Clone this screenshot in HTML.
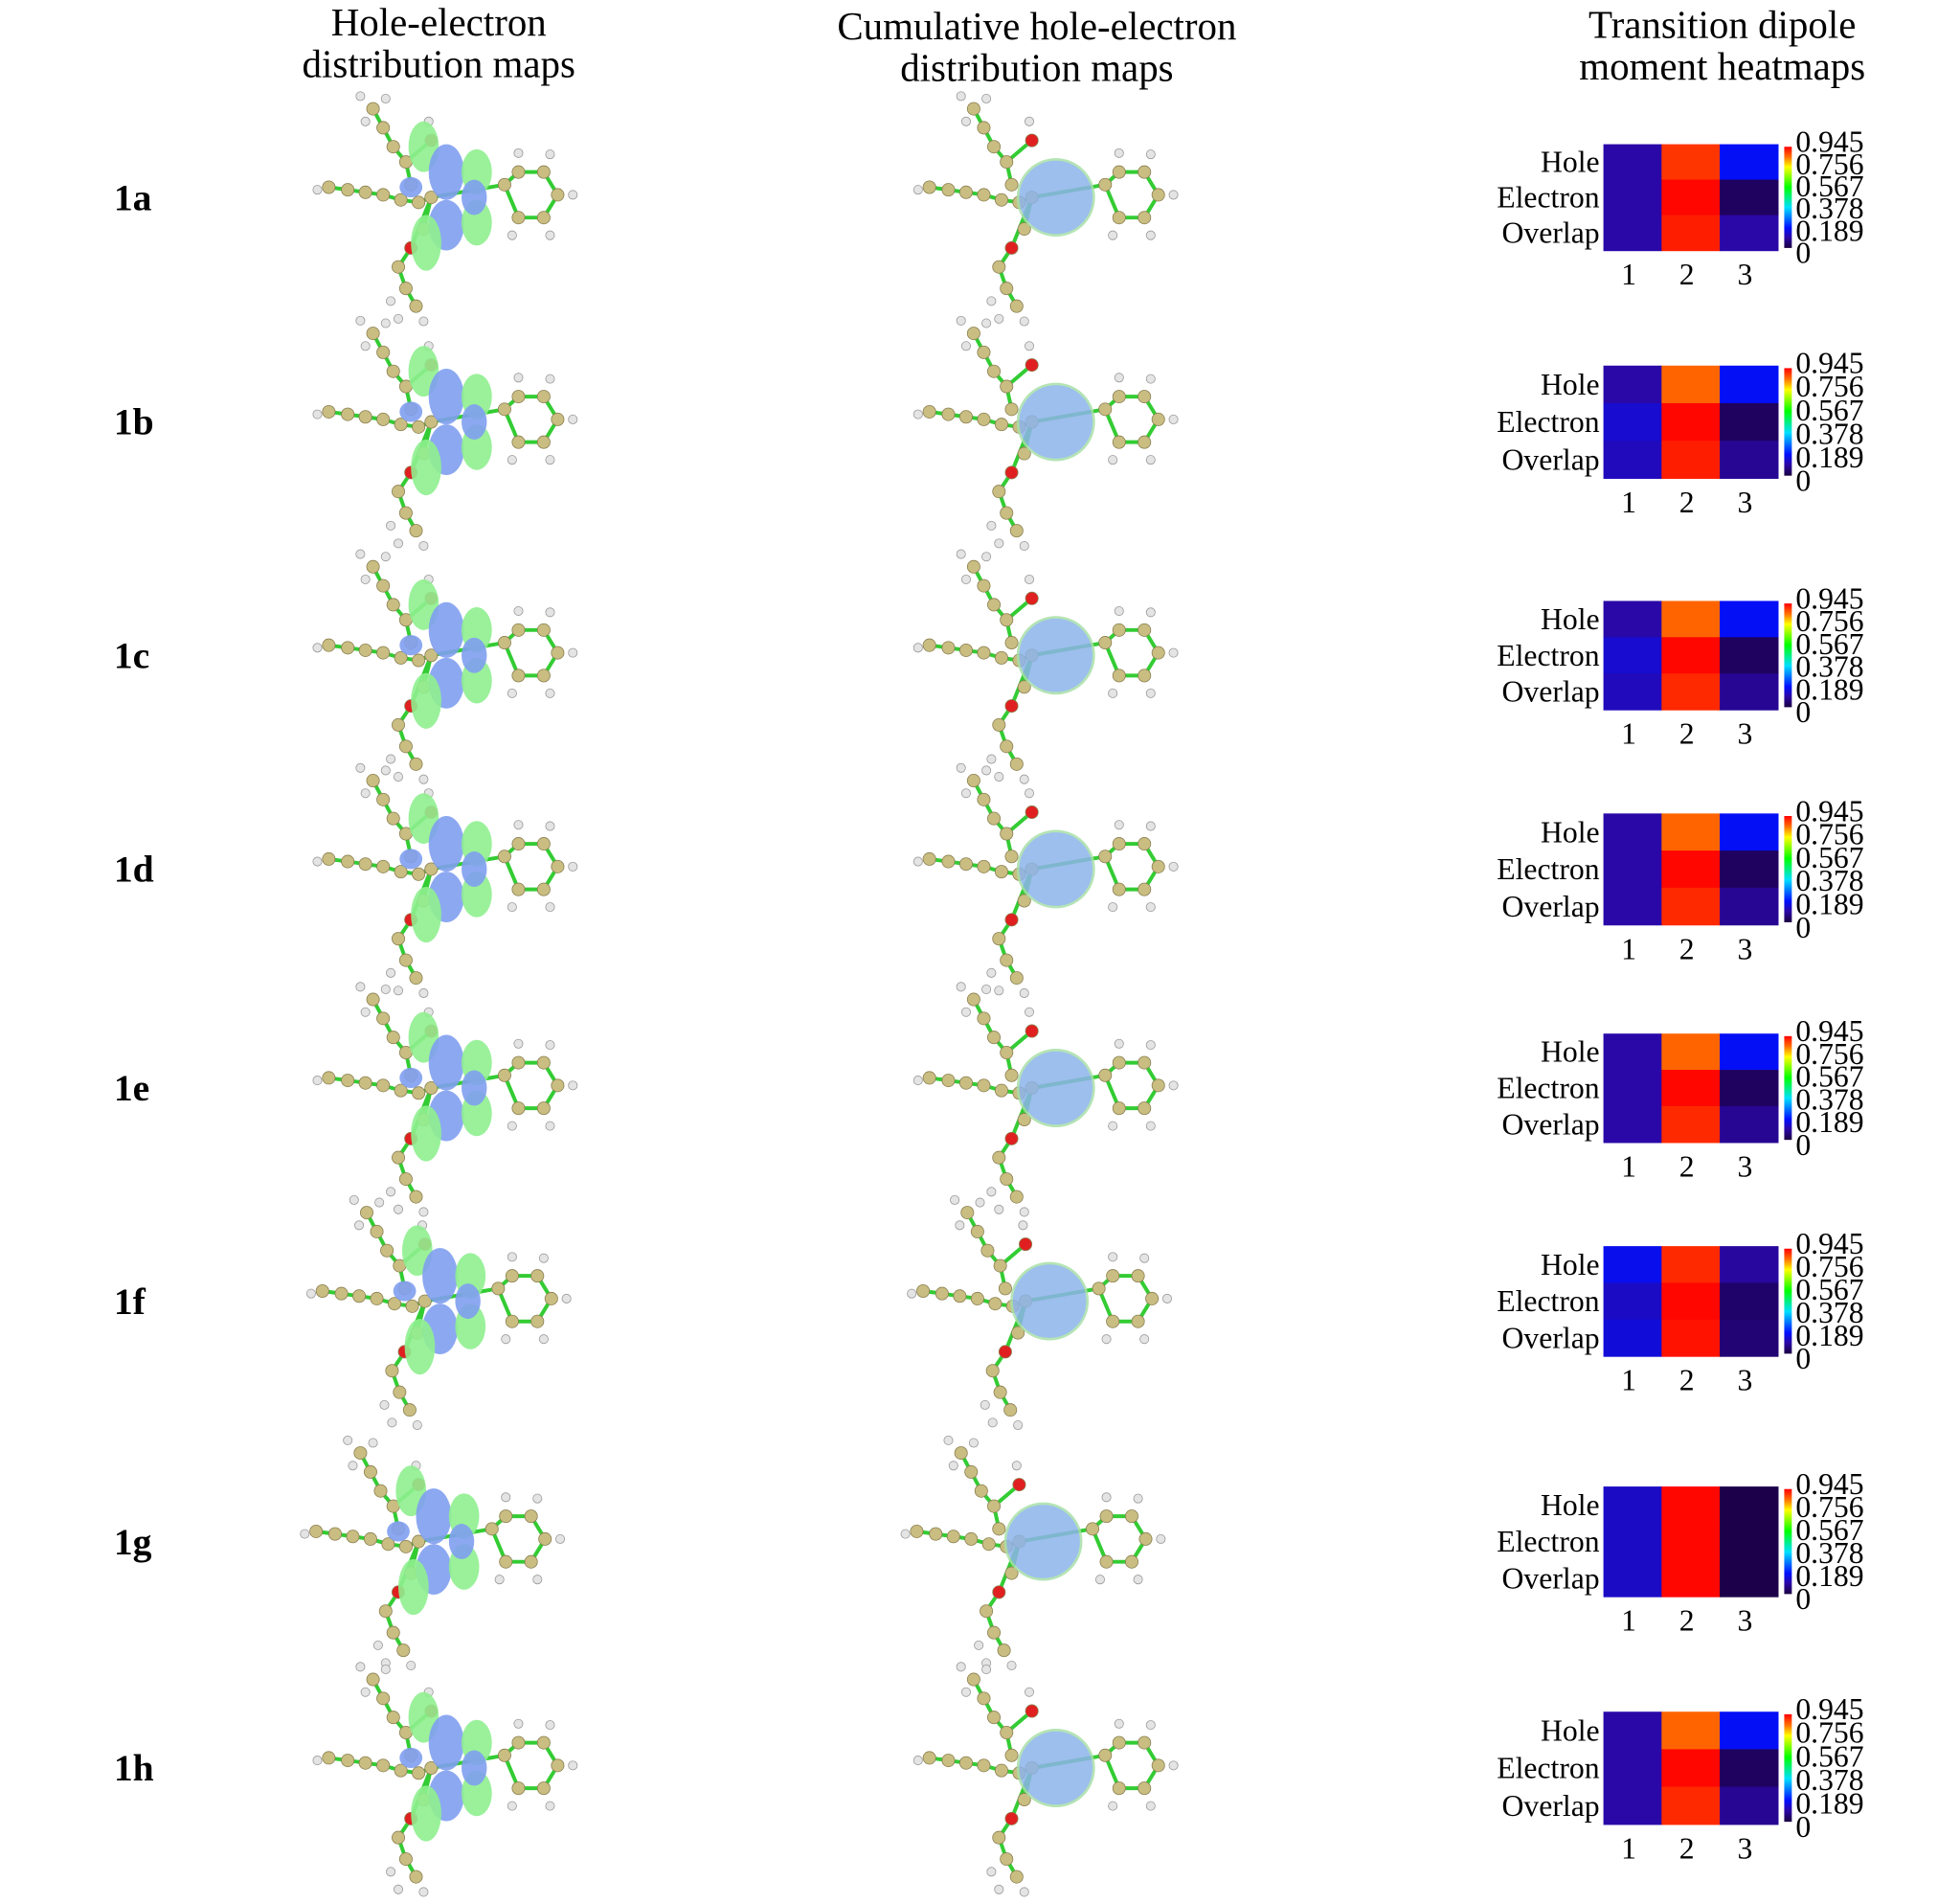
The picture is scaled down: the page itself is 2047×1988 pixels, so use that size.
<!DOCTYPE html>
<html><head><meta charset="utf-8"><style>
html,body{margin:0;padding:0;background:#fff}
svg{display:block}
text{font-family:"Liberation Serif",serif;fill:#000}
</style></head><body>
<svg id="fig" width="2047" height="1988" viewBox="0 0 1550 1505" preserveAspectRatio="none" xmlns="http://www.w3.org/2000/svg">
<g font-size="31" text-anchor="middle">
<text x="347" y="28">Hole-electron</text>
<text x="347" y="61">distribution maps</text>
<text x="820" y="31">Cumulative hole-electron</text>
<text x="820" y="64">distribution maps</text>
<text x="1362" y="30">Transition dipole</text>
<text x="1362" y="63">moment heatmaps</text>
</g>
<g id="rows"></g>
</svg>
<script>
const compounds = ["1a","1b","1c","1d","1e","1f","1g","1h"];
const rowLabels = ["Hole","Electron","Overlap"];
const colLabels = ["1","2","3"];
const cbTicks = ["0.945","0.756","0.567","0.378","0.189","0"];
const vals1a = [[0.10,0.90,0.18],[0.10,0.94,0.03],[0.10,0.92,0.10]];
const vals1b = [[0.10,0.86,0.18],[0.14,0.94,0.03],[0.12,0.92,0.08]];
const vals1c = [[0.10,0.86,0.18],[0.14,0.94,0.03],[0.12,0.91,0.08]];
const vals1d = [[0.10,0.86,0.18],[0.10,0.94,0.03],[0.10,0.91,0.08]];
const vals1e = [[0.10,0.86,0.18],[0.10,0.94,0.03],[0.10,0.91,0.08]];
const vals1f = [[0.17,0.91,0.09],[0.13,0.94,0.04],[0.15,0.93,0.05]];
const vals1g = [[0.13,0.94,0.01],[0.13,0.94,0.01],[0.13,0.94,0.01]];
const vals1h = [[0.10,0.86,0.18],[0.10,0.94,0.03],[0.10,0.91,0.08]];
const allVals = [vals1a,vals1b,vals1c,vals1d,vals1e,vals1f,vals1g,vals1h];

// layout (not data)
const hmTop = [114,289,475,643,817,985,1175,1353];
const hmBot = [198,378,561,731,903,1072,1262,1442];
const molShift = [0,0,0,0,0,-5,-10,0];
const HX0 = 1268, HX1 = 1406;

const stops=[[0,[26,0,64]],[0.1,[42,8,168]],[0.189,[0,16,255]],[0.378,[0,224,255]],[0.567,[0,255,0]],[0.756,[255,255,0]],[0.85,[255,112,0]],[0.945,[255,0,0]]];
function cmap(v){
  for(let i=1;i<stops.length;i++){ if(v<=stops[i][0]){const a=stops[i-1],b=stops[i];const t=(v-a[0])/(b[0]-a[0]);
    return "rgb("+a[1].map((c,k)=>Math.round(c+(b[1][k]-c)*t)).join(",")+")";}}
  return "rgb(255,0,0)";
}
const NS="http://www.w3.org/2000/svg";
function mk(tag,attrs,parent){const e=document.createElementNS(NS,tag);for(const k in attrs)e.setAttribute(k,attrs[k]);parent.appendChild(e);return e;}
const rows=document.getElementById("rows");

const atoms=[[-95,-8],[-80,-6],[-66,-4],[-52,-2],[-38,2],[-24,4],[-60,-70],[-52,-55],[-44,-40],[-34,-28],[-14,-45],[-30,-10],
 [-14,0],[-30,40],[-40,55],[-34,72],[-26,86],[44,-10],[55,-20],[75,-20],[86,-2],[75,16],[55,16],[-20,25]];
const bonds=[[0,1],[1,2],[2,3],[3,4],[4,5],[6,7],[7,8],[8,9],[9,10],[9,11],[5,12],[12,13],[13,14],[14,15],[15,16],[12,17],[17,18],[18,19],[19,20],[20,21],[21,22],[22,17],[12,23]];
const hyd=[[-104,-6],[-70,-80],[-50,-78],[-66,-60],[-16,-60],[-40,96],[-20,98],[-46,82],[55,-35],[80,-34],[98,-2],[80,30],[50,30]];

compounds.forEach((c,i)=>{
  const g=mk("g",{},rows);
  
  
  const y0=hmTop[i],y1=hmBot[i],cy=(y0+y1)/2;
  const lab=mk("text",{x:90,y:cy+10,"font-size":30,"font-weight":"bold"},g);
  lab.textContent=c;
  
  
  [355+molShift[i],830+molShift[i]].forEach((mx,col)=>{
    const m=mk("g",{transform:"translate("+mx+","+cy+")"},g);
    
    
    bonds.forEach(b=>{const a=atoms[b[0]],d=atoms[b[1]];mk("line",{x1:a[0],y1:a[1],x2:d[0],y2:d[1],stroke:"#33cc33","stroke-width":3},m);});
    hyd.forEach(h=>mk("circle",{cx:h[0],cy:h[1],r:3.5,fill:"#e4e4e4",stroke:"#999","stroke-width":0.6},m));
    atoms.forEach((a,k)=>mk("circle",{cx:a[0],cy:a[1],r:5,fill:(k===10||k===13)?"#e02020":"#c9bd82",stroke:"#8a7f50","stroke-width":0.6},m));
    if(col===0){
      [[-20,-40,12,20,"#8fef8f"],[-2,-20,14,22,"#7f9fef"],[22,-20,12,18,"#8fef8f"],[-2,22,14,20,"#7f9fef"],[22,20,12,18,"#8fef8f"],[-18,36,12,22,"#8fef8f"],[20,0,10,14,"#7f9fef"],[-30,-8,9,8,"#7f9fef"]].forEach(e=>mk("ellipse",{cx:e[0],cy:e[1],rx:e[2],ry:e[3],fill:e[4],opacity:0.9},m));
    } else {
      mk("circle",{cx:5,cy:0,r:30,fill:"#8db4ea",opacity:0.85,stroke:"#a8e0a8","stroke-width":2},m);
    }
  });
  const hm=mk("g",{},g);
  
  
  const vals=allVals[i];
  const cw=(HX1-HX0)/colLabels.length, rh=(y1-y0)/rowLabels.length;
  vals.forEach((row,r)=>row.forEach((v,k)=>{
    const cell=mk("rect",{x:HX0+k*cw,y:y0+r*rh,width:cw+0.5,height:rh+0.5,fill:cmap(v)},hm);
    
    
  }));
  rowLabels.forEach((t,r)=>{const e=mk("text",{x:HX0-3,y:y0+r*rh+rh/2+8,"font-size":24,"text-anchor":"end"},hm);e.textContent=t;
    
    });
  colLabels.forEach((t,k)=>{const e=mk("text",{x:HX0+k*cw+cw/2-3,y:y1+27,"font-size":24,"text-anchor":"middle"},hm);e.textContent=t;
    
    });
  const cb=mk("g",{},g);
  
  
  const defs=mk("defs",{},cb);
  const gr=mk("linearGradient",{id:"cg"+i,x1:0,y1:1,x2:0,y2:0},defs);
  stops.forEach(s=>mk("stop",{offset:(s[0]/0.945*100)+"%","stop-color":"rgb("+s[1].join(",")+")"},gr));
  mk("rect",{x:1411,y:y0+2,width:6,height:y1-y0-4,fill:"url(#cg"+i+")"},cb);
  cbTicks.forEach((t,k)=>{const e=mk("text",{x:1420,y:y0+6+k*(y1-y0+4)/(cbTicks.length-1),"font-size":24},cb);e.textContent=t;
    
    });
});
</script>
</body></html>
